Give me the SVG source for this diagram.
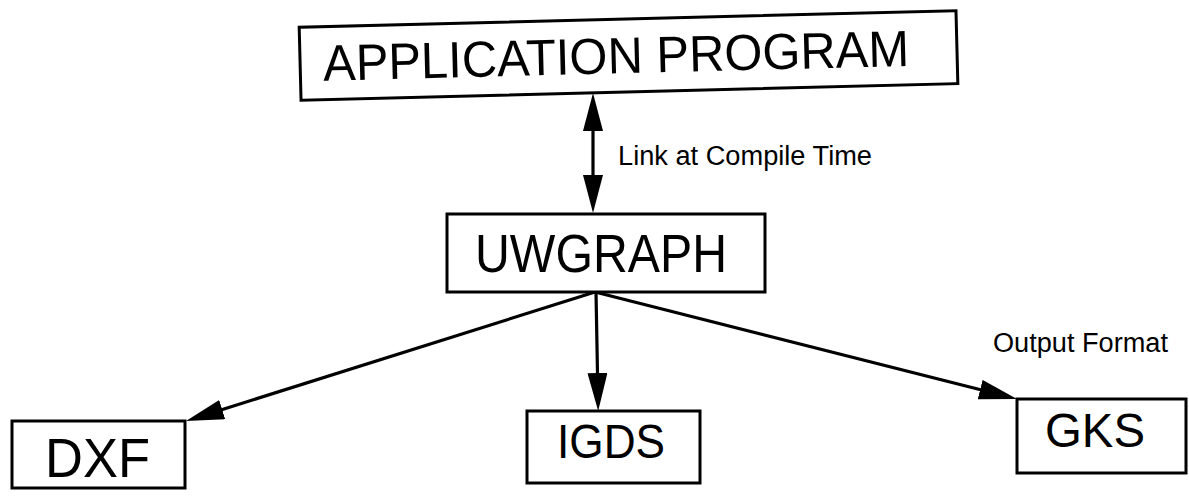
<svg xmlns="http://www.w3.org/2000/svg" width="1189" height="498" viewBox="0 0 1189 498">
  <style>
    .box { fill: #ffffff; stroke: #000000; stroke-width: 3; }
    .big { font-family: "Liberation Sans", Arial, sans-serif; fill: #000000; }
    .small { font-family: "Liberation Sans", Arial, sans-serif; font-size: 27px; fill: #000000; }
    .conn { stroke: #000000; stroke-width: 3.2; fill: none; }
  </style>
  <defs>
    <marker id="arrow" viewBox="0 0 38 20" refX="28" refY="10" markerWidth="38" markerHeight="20" markerUnits="userSpaceOnUse" orient="auto-start-reverse">
      <path d="M0,0 L38,10 L0,20 z" fill="#000000"/>
    </marker>
  </defs>
  <rect x="0" y="0" width="1189" height="498" fill="#ffffff"/>

  <g id="connectors">
    <line class="conn" x1="593" y1="103" x2="593" y2="203" marker-start="url(#arrow)" marker-end="url(#arrow)"/>
    <line class="conn" x1="595" y1="292" x2="195.5" y2="418" marker-end="url(#arrow)"/>
    <line class="conn" x1="596" y1="292" x2="598" y2="401" marker-end="url(#arrow)"/>
    <line class="conn" x1="595" y1="292" x2="1007.3" y2="396.5" marker-end="url(#arrow)"/>
  </g>

  <g id="label-link">
    <text class="small" x="618" y="165" textLength="254" lengthAdjust="spacingAndGlyphs">Link at Compile Time</text>
  </g>
  <g id="label-output">
    <text class="small" x="993" y="352" textLength="175" lengthAdjust="spacingAndGlyphs">Output Format</text>
  </g>

  <g id="application-program" transform="rotate(-1.45 628 55)">
    <rect class="box" x="300" y="19" width="657" height="73"/>
    <text class="big" x="323" y="73" font-size="51" textLength="586" lengthAdjust="spacingAndGlyphs">APPLICATION PROGRAM</text>
  </g>

  <g id="uwgraph">
    <rect class="box" x="447" y="214" width="318" height="78"/>
    <text class="big" x="475" y="272" font-size="53" textLength="252" lengthAdjust="spacingAndGlyphs">UWGRAPH</text>
  </g>

  <g id="dxf">
    <rect class="box" x="12" y="421" width="173" height="67"/>
    <text class="big" x="45" y="477" font-size="55" textLength="105" lengthAdjust="spacingAndGlyphs">DXF</text>
  </g>

  <g id="igds">
    <rect class="box" x="527" y="411" width="173" height="72"/>
    <text class="big" x="557" y="458" font-size="48" textLength="108" lengthAdjust="spacingAndGlyphs">IGDS</text>
  </g>

  <g id="gks">
    <rect class="box" x="1017" y="399" width="169" height="74"/>
    <text class="big" x="1045" y="447" font-size="48" textLength="100" lengthAdjust="spacingAndGlyphs">GKS</text>
  </g>
</svg>
